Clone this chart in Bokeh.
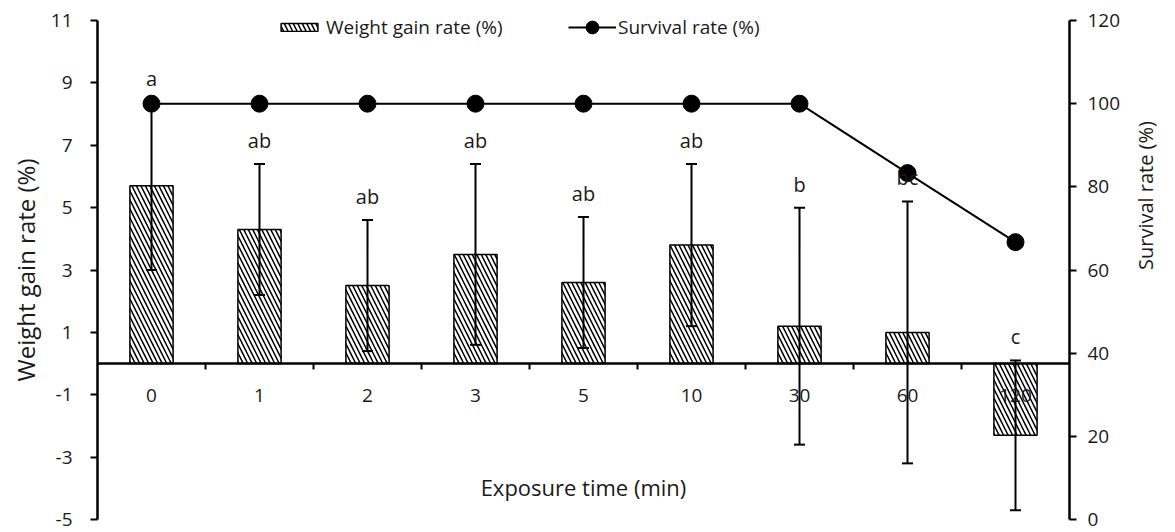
import math
from bokeh.plotting import figure
from bokeh.models import (Range1d, LinearAxis, FixedTicker, CustomJSTickFormatter,
                          ColumnDataSource, Whisker, TeeHead, LabelSet,
                          Legend, LegendItem)
from bokeh.core.properties import value
from bokeh.embed import file_html
from bokeh.resources import INLINE

# ---- data ----
categories = ["0", "1", "2", "3", "5", "10", "30", "60", "120"]
weight_gain = [5.7, 4.3, 2.5, 3.5, 2.6, 3.8, 1.2, 1.0, -2.3]
weight_sd = [2.7, 2.1, 2.1, 2.9, 2.1, 2.6, 3.8, 4.2, 2.4]
survival = [100, 100, 100, 100, 100, 100, 100, 83.3, 66.7]
letters = ["a", "ab", "ab", "ab", "ab", "ab", "b", "bc", "c"]
left_ticks = [-5, -3, -1, 1, 3, 5, 7, 9, 11]
right_ticks = [0, 20, 40, 60, 80, 100, 120]

FONT = "Open Sans"
TXT = "#1a1a1a"

n = len(categories)
centers = [i + 0.5 for i in range(n)]          # category slots on a numeric scale
boundaries = list(range(1, n))
src = ColumnDataSource(dict(
    x=centers,
    cat=categories,
    wg=weight_gain,
    upper=[w + s for w, s in zip(weight_gain, weight_sd)],
    lower=[w - s for w, s in zip(weight_gain, weight_sd)],
    letters=letters,
    surv=survival,
))

p = figure(width=1175, height=532,
           x_range=Range1d(0, n), y_range=Range1d(-5, 11),
           output_backend="svg", toolbar_location=None,
           x_axis_location=None, y_axis_location=None,
           min_border_left=97, min_border_right=101,
           min_border_top=20, min_border_bottom=13)
p.outline_line_color = None
for g in p.grid:
    g.visible = False
p.extra_y_ranges = {"surv": Range1d(0, 120)}

# ---- bars ----
bars = p.vbar(x="x", top="wg", bottom=0, width=0.4, source=src,
              fill_color="white", line_color="black", line_width=1.5,
              hatch_pattern="left_diagonal_line", hatch_color="black",
              hatch_scale=9, hatch_weight=1.5, level="underlay")

# ---- error bars ----
wh = Whisker(base="x", upper="upper", lower="lower", source=src,
             line_color="black", line_width=2, level="underlay",
             upper_head=TeeHead(size=11, line_width=2, line_color="black"),
             lower_head=TeeHead(size=11, line_width=2, line_color="black"))
p.add_layout(wh)

# ---- survival line ----
ln = p.line(x="x", y="surv", source=src, y_range_name="surv",
            line_color="black", line_width=2)
pts = p.scatter(x="x", y="surv", source=src, y_range_name="surv",
                size=17, fill_color="black", line_color="black")

# ---- letters ----
lab = LabelSet(x="x", y="upper", text="letters", source=src, y_offset=16,
               text_align="center", text_baseline="alphabetic",
               text_font=value(FONT), text_font_size=value("20px"), text_color=TXT)
p.add_layout(lab)

# ---- axes ----
plain = CustomJSTickFormatter(code="return tick.toString()")

def style_axis(ax):
    ax.axis_line_color = "black"
    ax.axis_line_width = 2.5
    ax.major_tick_line_color = "black"
    ax.major_tick_line_width = 2
    ax.major_tick_in = 0
    ax.major_tick_out = 7
    ax.minor_tick_line_color = None
    ax.major_label_text_font = FONT
    ax.major_label_text_font_size = "19px"
    ax.major_label_text_color = TXT
    ax.axis_label_text_font = FONT
    ax.axis_label_text_font_style = "normal"
    ax.axis_label_text_color = TXT

yl = LinearAxis(ticker=FixedTicker(ticks=left_ticks), formatter=plain,
                axis_label="Weight gain rate (%)")
style_axis(yl)
yl.major_label_standoff = 18
yl.axis_label_standoff = 6
yl.axis_label_text_font_size = "24px"
p.add_layout(yl, "left")

yr = LinearAxis(y_range_name="surv", ticker=FixedTicker(ticks=right_ticks),
                formatter=plain, axis_label="Survival rate (%)")
style_axis(yr)
yr.major_label_standoff = 11
yr.axis_label_standoff = 22
yr.axis_label_text_font_size = "20px"
yr.axis_label_orientation = math.pi / 2
p.add_layout(yr, "right")

# zero line: category labels at slot centres, tick marks between slots
xc = LinearAxis(fixed_location=0,
                ticker=FixedTicker(ticks=centers, minor_ticks=boundaries),
                formatter=CustomJSTickFormatter(args=dict(labels=categories),
                                                code="return labels[Math.floor(tick)] || ''"),
                axis_label="Exposure time (min)")
style_axis(xc)
xc.major_tick_line_color = None
xc.major_tick_out = 0
xc.minor_tick_line_color = "black"
xc.minor_tick_line_width = 2
xc.minor_tick_in = 0
xc.minor_tick_out = 6
xc.major_label_standoff = 19
xc.axis_label_standoff = 67
xc.axis_label_text_font_size = "22px"
p.add_layout(xc, "below")

# ---- legends (location = bottom-left corner, frame pixels) ----
leg1 = Legend(items=[LegendItem(label="Weight gain rate (%)", renderers=[bars])],
              location=(179, 479), orientation="horizontal",
              glyph_width=46, glyph_height=10, label_standoff=4,
              padding=0, margin=0, border_line_color=None, background_fill_alpha=0,
              label_text_font=FONT, label_text_font_size="19px", label_text_color=TXT)
leg2 = Legend(items=[LegendItem(label="Survival rate (%)", renderers=[ln, pts])],
              location=(471, 476), orientation="horizontal",
              glyph_width=48, glyph_height=32, label_standoff=2,
              padding=0, margin=0, border_line_color=None, background_fill_alpha=0,
              label_text_font=FONT, label_text_font_size="19px", label_text_color=TXT)
p.add_layout(leg1)
p.add_layout(leg2)

open("out.html", "w").write(file_html(p, INLINE))
